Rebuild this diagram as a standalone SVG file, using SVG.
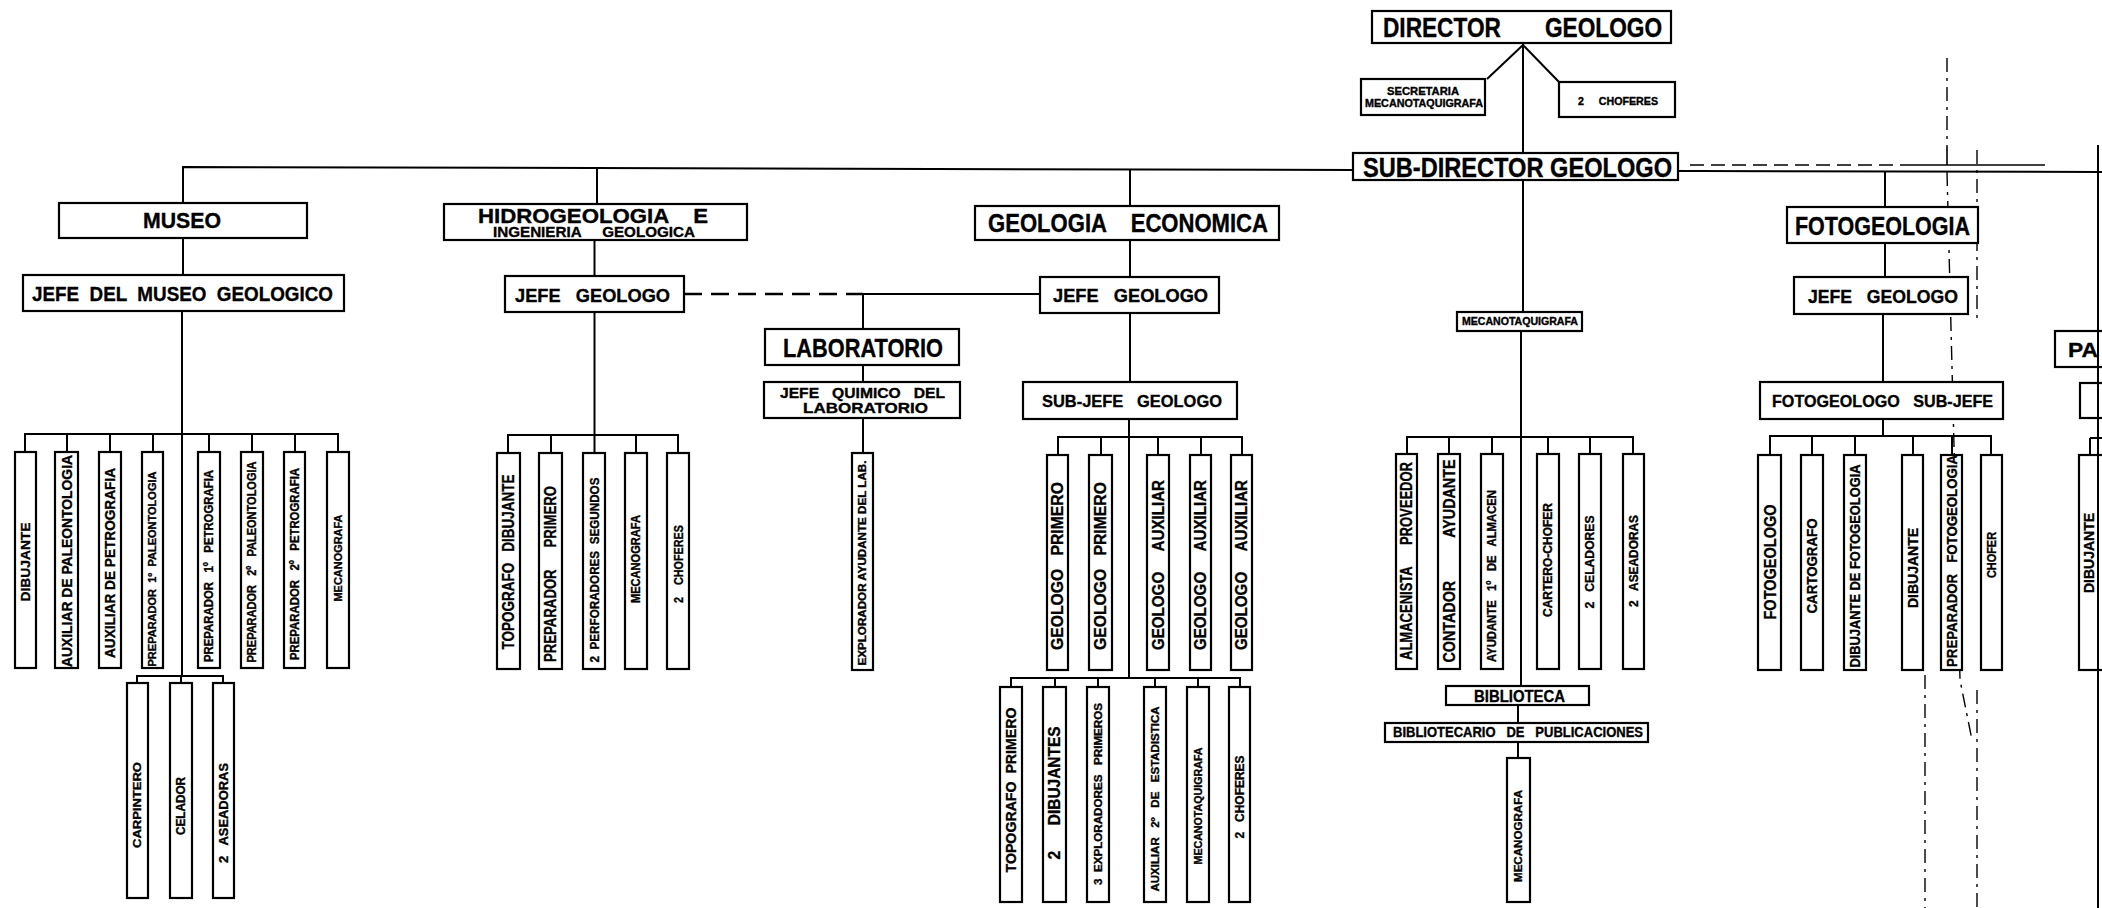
<svg xmlns="http://www.w3.org/2000/svg" width="2102" height="908" viewBox="0 0 2102 908">
<style>
.bg{fill:#fff}
.b{fill:#fff;stroke:#000;stroke-width:2.2}
.c{fill:none;stroke:#000;stroke-width:2}
.d{fill:none;stroke:#000;stroke-width:2.4;stroke-dasharray:18 9}
.a{fill:none;stroke:#000;stroke-width:1.4;stroke-dasharray:14 6 3 6}
text{font-family:"Liberation Sans",Arial,sans-serif;font-weight:bold;fill:#000;stroke:#000;stroke-width:0.35;text-anchor:middle;white-space:pre}
.s{text-anchor:start}
</style>
<rect class="bg" x="0" y="0" width="2102" height="908"/>
<g id="connectors">
<path class="c" d="M183 203 V167 L2102 172"/>
<path class="c" d="M1523 43 V153 M1523 45 L1487 79 M1523 45 L1559 82"/>
<path class="c" d="M1523 180 V312 M1521 331 V686 M1407 454 V437 H1633 V454 M1449 437 V454 M1492 437 V454 M1548 437 V454 M1590 437 V454 M1518 705 V723 M1518 742 V758"/>
<path class="c" d="M183 238 V275 M182 311 V676 M25 452 V434 H338 V452 M67 434 V452 M110 434 V452 M153 434 V452 M209 434 V452 M252 434 V452 M295 434 V452 M137 683 V676 H223 V683 M181 676 V683"/>
<path class="c" d="M597 168 V204 M594.5 240 V276 M594.5 312 V453 M508 453 V435 H678 V453 M551 435 V453 M636 435 V453"/>
<path class="d" d="M684 294 H863"/>
<path class="c" d="M863 294 H1040 M863 294 V329 M863 365 V382 M863 418 V453"/>
<path class="c" d="M1130 169 V206 M1130 240 V277 M1130 313 V382 M1129 419 V678 M1058 455 V437 H1242 V455 M1101 437 V455 M1158 437 V455 M1201 437 V455 M1011 687 V678 H1240 V687 M1055 678 V687 M1098 678 V687 M1155 678 V687 M1198 678 V687"/>
<path class="c" d="M1885 171 V207 M1885 243 V277 M1883 314 V382 M1883 419 V436 M1770 455 V436 H1991 V455 M1812 436 V455 M1855 436 V455 M1913 436 V455 M1952 436 V455"/>
<path class="c" d="M2098 145 V908 M2090 438 H2102 M2090 438 V455"/>
<path class="d" style="stroke-width:1.6;stroke-dasharray:14 7" d="M1690 165 H1900"/>
<path class="c" style="stroke-width:1.6" d="M1900 165 H2045 M1947 147 V165"/>
<path class="a" d="M1947 58 V147 M1947 172 L1960 680 L1972 740"/>
<path class="a" d="M1977 150 V320 M1977 690 V908 M1925 675 V908"/>
</g>
<g id="director"><rect class="b" x="1372" y="11" width="299" height="32"/><text x="1522.5" y="37" font-size="27" textLength="279" lengthAdjust="spacingAndGlyphs">DIRECTOR       GEOLOGO</text></g>
<g id="secretaria"><rect class="b" x="1361" y="79" width="124" height="36"/><text x="1423" y="95" font-size="10" textLength="72" lengthAdjust="spacingAndGlyphs">SECRETARIA</text><text x="1424" y="107" font-size="10" textLength="118" lengthAdjust="spacingAndGlyphs">MECANOTAQUIGRAFA</text></g>
<g id="choferes-dir"><rect class="b" x="1559" y="82" width="116" height="35"/><text x="1618" y="105" font-size="10" textLength="80" lengthAdjust="spacingAndGlyphs">2     CHOFERES</text></g>
<g id="subdirector"><rect class="b" x="1353" y="153" width="325" height="27"/><text x="1517.5" y="177" font-size="27" textLength="309" lengthAdjust="spacingAndGlyphs">SUB-DIRECTOR GEOLOGO</text></g>
<g id="museo"><rect class="b" x="59" y="203" width="248" height="35"/><text x="182" y="228" font-size="22" textLength="78" lengthAdjust="spacingAndGlyphs">MUSEO</text></g>
<g id="jefe-museo"><rect class="b" x="23" y="275" width="321" height="36"/><text x="182.5" y="301" font-size="20" textLength="301" lengthAdjust="spacingAndGlyphs">JEFE  DEL  MUSEO  GEOLOGICO</text></g>
<g id="museo-staff">
<rect class="b" x="15" y="452" width="21" height="216"/><text transform="translate(25.5 562) rotate(-90)" dy=".36em" font-size="13" textLength="79" lengthAdjust="spacingAndGlyphs">DIBUJANTE</text>
<rect class="b" x="55" y="452" width="23" height="216"/><text transform="translate(66.5 561) rotate(-90)" dy=".36em" font-size="15" textLength="212" lengthAdjust="spacingAndGlyphs">AUXILIAR DE PALEONTOLOGIA</text>
<rect class="b" x="99" y="452" width="22" height="216"/><text transform="translate(110 563) rotate(-90)" dy=".36em" font-size="15" textLength="190" lengthAdjust="spacingAndGlyphs">AUXILIAR DE PETROGRAFIA</text>
<rect class="b" x="142" y="452" width="21" height="216"/><text transform="translate(152.5 569) rotate(-90)" dy=".36em" font-size="11" textLength="195" lengthAdjust="spacingAndGlyphs">PREPARADOR  1º  PALEONTOLOGIA</text>
<rect class="b" x="198" y="452" width="22" height="216"/><text transform="translate(209 566) rotate(-90)" dy=".36em" font-size="12" textLength="192" lengthAdjust="spacingAndGlyphs">PREPARADOR   1º   PETROGRAFIA</text>
<rect class="b" x="241" y="452" width="22" height="216"/><text transform="translate(252 562) rotate(-90)" dy=".36em" font-size="12" textLength="201" lengthAdjust="spacingAndGlyphs">PREPARADOR   2º   PALEONTOLOGIA</text>
<rect class="b" x="284" y="452" width="21" height="216"/><text transform="translate(294.5 564) rotate(-90)" dy=".36em" font-size="12" textLength="192" lengthAdjust="spacingAndGlyphs">PREPARADOR   2º   PETROGRAFIA</text>
<rect class="b" x="327" y="452" width="22" height="216"/><text transform="translate(338 558) rotate(-90)" dy=".36em" font-size="11" textLength="87" lengthAdjust="spacingAndGlyphs">MECANOGRAFA</text>
<rect class="b" x="127" y="683" width="21" height="215"/><text transform="translate(137.5 805) rotate(-90)" dy=".36em" font-size="11" textLength="86" lengthAdjust="spacingAndGlyphs">CARPINTERO</text>
<rect class="b" x="170" y="683" width="22" height="215"/><text transform="translate(181 806) rotate(-90)" dy=".36em" font-size="12" textLength="58" lengthAdjust="spacingAndGlyphs">CELADOR</text>
<rect class="b" x="213" y="683" width="21" height="215"/><text transform="translate(223.5 813) rotate(-90)" dy=".36em" font-size="12" textLength="100" lengthAdjust="spacingAndGlyphs">2   ASEADORAS</text>
</g>
<g id="hidrogeologia"><rect class="b" x="444" y="204" width="303" height="36"/><text x="593" y="223" font-size="21" textLength="230" lengthAdjust="spacingAndGlyphs">HIDROGEOLOGIA    E</text><text x="594" y="237" font-size="15" textLength="202" lengthAdjust="spacingAndGlyphs">INGENIERIA     GEOLOGICA</text></g>
<g id="jefe-hidro"><rect class="b" x="505" y="276" width="179" height="36"/><text x="592.5" y="302" font-size="19" textLength="155" lengthAdjust="spacingAndGlyphs">JEFE   GEOLOGO</text></g>
<g id="hidro-staff">
<rect class="b" x="497" y="453" width="23" height="216"/><text transform="translate(508.5 562) rotate(-90)" dy=".36em" font-size="16" textLength="175" lengthAdjust="spacingAndGlyphs">TOPOGRAFO   DIBUJANTE</text>
<rect class="b" x="539" y="453" width="23" height="216"/><text transform="translate(550.5 574) rotate(-90)" dy=".36em" font-size="16" textLength="176" lengthAdjust="spacingAndGlyphs">PREPARADOR      PRIMERO</text>
<rect class="b" x="583" y="453" width="22" height="216"/><text transform="translate(594 570) rotate(-90)" dy=".36em" font-size="13" textLength="185" lengthAdjust="spacingAndGlyphs">2  PERFORADORES  SEGUNDOS</text>
<rect class="b" x="625" y="453" width="22" height="216"/><text transform="translate(636 559) rotate(-90)" dy=".36em" font-size="12" textLength="88" lengthAdjust="spacingAndGlyphs">MECANOGRAFA</text>
<rect class="b" x="667" y="453" width="22" height="216"/><text transform="translate(678 564) rotate(-90)" dy=".36em" font-size="13" textLength="78" lengthAdjust="spacingAndGlyphs">2    CHOFERES</text>
</g>
<g id="laboratorio"><rect class="b" x="765" y="329" width="194" height="36"/><text x="863" y="357" font-size="26" textLength="160" lengthAdjust="spacingAndGlyphs">LABORATORIO</text></g>
<g id="jefe-quimico"><rect class="b" x="764" y="382" width="196" height="36"/><text x="862.5" y="398" font-size="15" textLength="165" lengthAdjust="spacingAndGlyphs">JEFE   QUIMICO   DEL</text><text x="865.5" y="413" font-size="15" textLength="125" lengthAdjust="spacingAndGlyphs">LABORATORIO</text></g>
<g id="explorador-lab"><rect class="b" x="852" y="453" width="21" height="217"/><text transform="translate(862.5 563) rotate(-90)" dy=".36em" font-size="10" textLength="205" lengthAdjust="spacingAndGlyphs">EXPLORADOR AYUDANTE DEL LAB.</text></g>
<g id="geologia-economica"><rect class="b" x="975" y="206" width="304" height="34"/><text x="1128" y="232" font-size="25" textLength="280" lengthAdjust="spacingAndGlyphs">GEOLOGIA    ECONOMICA</text></g>
<g id="jefe-econ"><rect class="b" x="1040" y="277" width="179" height="36"/><text x="1130.5" y="302" font-size="19" textLength="155" lengthAdjust="spacingAndGlyphs">JEFE   GEOLOGO</text></g>
<g id="subjefe-econ"><rect class="b" x="1023" y="382" width="214" height="37"/><text x="1132" y="407" font-size="17" textLength="180" lengthAdjust="spacingAndGlyphs">SUB-JEFE   GEOLOGO</text></g>
<g id="econ-staff">
<rect class="b" x="1047" y="455" width="21" height="215"/><text transform="translate(1057.5 566) rotate(-90)" dy=".36em" font-size="16" textLength="168" lengthAdjust="spacingAndGlyphs">GEOLOGO   PRIMERO</text>
<rect class="b" x="1089" y="455" width="23" height="215"/><text transform="translate(1100.5 566) rotate(-90)" dy=".36em" font-size="16" textLength="168" lengthAdjust="spacingAndGlyphs">GEOLOGO   PRIMERO</text>
<rect class="b" x="1147" y="455" width="22" height="215"/><text transform="translate(1158 565) rotate(-90)" dy=".36em" font-size="16" textLength="170" lengthAdjust="spacingAndGlyphs">GEOLOGO     AUXILIAR</text>
<rect class="b" x="1190" y="455" width="21" height="215"/><text transform="translate(1200.5 565) rotate(-90)" dy=".36em" font-size="16" textLength="170" lengthAdjust="spacingAndGlyphs">GEOLOGO     AUXILIAR</text>
<rect class="b" x="1231" y="455" width="21" height="215"/><text transform="translate(1241.5 565) rotate(-90)" dy=".36em" font-size="16" textLength="170" lengthAdjust="spacingAndGlyphs">GEOLOGO     AUXILIAR</text>
<rect class="b" x="1000" y="687" width="22" height="215"/><text transform="translate(1011 790) rotate(-90)" dy=".36em" font-size="15" textLength="165" lengthAdjust="spacingAndGlyphs">TOPOGRAFO  PRIMERO</text>
<rect class="b" x="1043" y="687" width="23" height="215"/><text transform="translate(1054.5 793) rotate(-90)" dy=".36em" font-size="16" textLength="133" lengthAdjust="spacingAndGlyphs">2      DIBUJANTES</text>
<rect class="b" x="1087" y="687" width="22" height="215"/><text transform="translate(1098 794) rotate(-90)" dy=".36em" font-size="11" textLength="182" lengthAdjust="spacingAndGlyphs">3  EXPLORADORES   PRIMEROS</text>
<rect class="b" x="1144" y="687" width="22" height="215"/><text transform="translate(1155 799) rotate(-90)" dy=".36em" font-size="11" textLength="185" lengthAdjust="spacingAndGlyphs">AUXILIAR   2º   DE   ESTADISTICA</text>
<rect class="b" x="1187" y="687" width="22" height="215"/><text transform="translate(1198 806) rotate(-90)" dy=".36em" font-size="11" textLength="117" lengthAdjust="spacingAndGlyphs">MECANOTAQUIGRAFA</text>
<rect class="b" x="1229" y="687" width="21" height="215"/><text transform="translate(1239.5 797) rotate(-90)" dy=".36em" font-size="12" textLength="83" lengthAdjust="spacingAndGlyphs">2   CHOFERES</text>
</g>
<g id="mecanotaquigrafa-sd"><rect class="b" x="1457" y="312" width="125" height="19"/><text x="1520" y="325" font-size="10" textLength="116" lengthAdjust="spacingAndGlyphs">MECANOTAQUIGRAFA</text></g>
<g id="subdir-staff">
<rect class="b" x="1396" y="454" width="21" height="215"/><text transform="translate(1406.5 561) rotate(-90)" dy=".36em" font-size="16" textLength="198" lengthAdjust="spacingAndGlyphs">ALMACENISTA      PROVEEDOR</text>
<rect class="b" x="1438" y="454" width="22" height="215"/><text transform="translate(1449 561) rotate(-90)" dy=".36em" font-size="16" textLength="203" lengthAdjust="spacingAndGlyphs">CONTADOR           AYUDANTE</text>
<rect class="b" x="1481" y="454" width="22" height="215"/><text transform="translate(1492 576) rotate(-90)" dy=".36em" font-size="12" textLength="172" lengthAdjust="spacingAndGlyphs">AYUDANTE   1º   DE   ALMACEN</text>
<rect class="b" x="1537" y="454" width="22" height="215"/><text transform="translate(1548 560) rotate(-90)" dy=".36em" font-size="12" textLength="114" lengthAdjust="spacingAndGlyphs">CARTERO-CHOFER</text>
<rect class="b" x="1579" y="454" width="22" height="215"/><text transform="translate(1590 562) rotate(-90)" dy=".36em" font-size="12" textLength="93" lengthAdjust="spacingAndGlyphs">2   CELADORES</text>
<rect class="b" x="1623" y="454" width="21" height="215"/><text transform="translate(1633.5 561) rotate(-90)" dy=".36em" font-size="12" textLength="92" lengthAdjust="spacingAndGlyphs">2   ASEADORAS</text>
</g>
<g id="biblioteca"><rect class="b" x="1446" y="686" width="143" height="19"/><text x="1519.5" y="702" font-size="16" textLength="91" lengthAdjust="spacingAndGlyphs">BIBLIOTECA</text></g>
<g id="bibliotecario"><rect class="b" x="1385" y="723" width="263" height="19"/><text x="1518" y="737" font-size="14" textLength="250" lengthAdjust="spacingAndGlyphs">BIBLIOTECARIO   DE   PUBLICACIONES</text></g>
<g id="mecanografa-bib"><rect class="b" x="1507" y="758" width="23" height="144"/><text transform="translate(1518.5 836) rotate(-90)" dy=".36em" font-size="11" textLength="92" lengthAdjust="spacingAndGlyphs">MECANOGRAFA</text></g>
<g id="fotogeologia"><rect class="b" x="1787" y="207" width="191" height="36"/><text x="1882.5" y="235" font-size="25" textLength="175" lengthAdjust="spacingAndGlyphs">FOTOGEOLOGIA</text></g>
<g id="jefe-foto"><rect class="b" x="1794" y="277" width="174" height="37"/><text x="1883" y="303" font-size="19" textLength="150" lengthAdjust="spacingAndGlyphs">JEFE   GEOLOGO</text></g>
<g id="subjefe-foto"><rect class="b" x="1760" y="382" width="243" height="37"/><text x="1882.5" y="407" font-size="17" textLength="221" lengthAdjust="spacingAndGlyphs">FOTOGEOLOGO   SUB-JEFE</text></g>
<g id="foto-staff">
<rect class="b" x="1758" y="455" width="23" height="215"/><text transform="translate(1769.5 562) rotate(-90)" dy=".36em" font-size="17" textLength="115" lengthAdjust="spacingAndGlyphs">FOTOGEOLOGO</text>
<rect class="b" x="1801" y="455" width="22" height="215"/><text transform="translate(1812 566) rotate(-90)" dy=".36em" font-size="14" textLength="95" lengthAdjust="spacingAndGlyphs">CARTOGRAFO</text>
<rect class="b" x="1844" y="455" width="22" height="215"/><text transform="translate(1855 566) rotate(-90)" dy=".36em" font-size="14" textLength="203" lengthAdjust="spacingAndGlyphs">DIBUJANTE DE FOTOGEOLOGIA</text>
<rect class="b" x="1902" y="455" width="21" height="215"/><text transform="translate(1912.5 568) rotate(-90)" dy=".36em" font-size="14" textLength="80" lengthAdjust="spacingAndGlyphs">DIBUJANTE</text>
<rect class="b" x="1941" y="455" width="21" height="215"/><text transform="translate(1951.5 561) rotate(-90)" dy=".36em" font-size="14" textLength="212" lengthAdjust="spacingAndGlyphs">PREPARADOR   FOTOGEOLOGIA</text>
<rect class="b" x="1981" y="455" width="21" height="215"/><text transform="translate(1991.5 555) rotate(-90)" dy=".36em" font-size="12" textLength="46" lengthAdjust="spacingAndGlyphs">CHOFER</text>
</g>
<g id="pa"><rect class="b" x="2055" y="331" width="70" height="36"/><text class="s" x="2068" y="357" font-size="21" textLength="30" lengthAdjust="spacingAndGlyphs">PA</text></g>
<g id="pa-jefe"><rect class="b" x="2080" y="383" width="40" height="35"/></g>
<g id="pa-dibujante"><rect class="b" x="2079" y="455" width="40" height="215"/><text transform="translate(2089 553) rotate(-90)" dy=".36em" font-size="14" textLength="80" lengthAdjust="spacingAndGlyphs">DIBUJANTE</text></g>
<path class="c" d="M2098 145 V908"/>
</svg>
